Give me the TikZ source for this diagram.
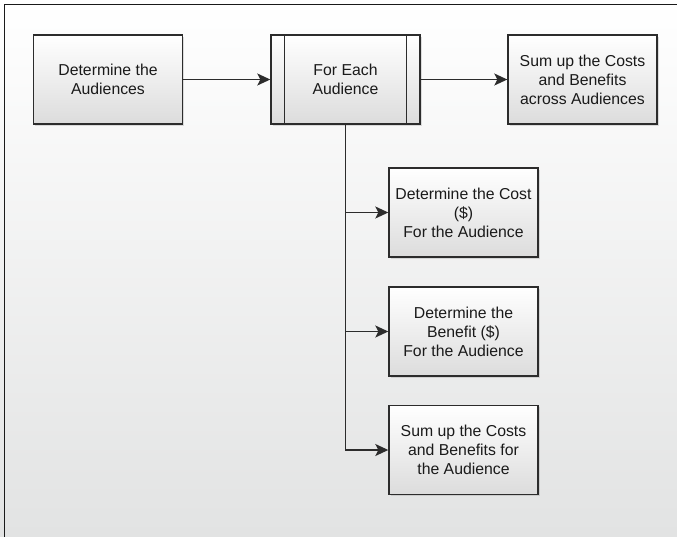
\documentclass[tikz,border=0pt]{standalone}
\usepackage{fontspec}
\setmainfont{Liberation Sans}
\usetikzlibrary{arrows.meta,shadows}
\definecolor{edge}{HTML}{2C2C2C}
\definecolor{ink}{HTML}{1A1A1A}
\definecolor{bglow}{HTML}{E2E3E3}
\definecolor{boxlow}{HTML}{DCDCDC}
\tikzset{
  stepbox/.style={draw=edge, line width=1.4pt, top color=white, bottom color=boxlow,
    minimum width=149pt, minimum height=89pt, align=center, text=ink,
    font=\fontsize{15.8pt}{19pt}\selectfont,
    drop shadow={shadow xshift=1.5pt, shadow yshift=-1.5pt, opacity=0.25}},
  flow/.style={draw=edge, line width=1.4pt, -{Stealth[length=13pt,width=12pt,inset=3pt]}},
}
\begin{document}
\begin{tikzpicture}[x=1pt,y=-1pt]
  \useasboundingbox (0,0) rectangle (677,536);
  % page background
  \shade[top color=white, bottom color=bglow] (0,0) rectangle (677,536);
  \draw[line width=1.6pt, color=ink] (4.5,540) -- (4.5,4.5) -- (680,4.5);

  % top row
  \node[stepbox] (aud) at (108,79.5) {Determine the\\Audiences};
  \node[stepbox] (each) at (345.5,79.5) {For Each\\Audience};
  \draw[edge, line width=1.4pt] ([xshift=14pt]each.north west) -- ([xshift=14pt]each.south west)
                                ([xshift=-14pt]each.north east) -- ([xshift=-14pt]each.south east);
  \node[stepbox] (total) at (582.5,79.5) {Sum up the Costs\\and Benefits\\across Audiences};

  % per-audience steps
  \node[stepbox] (cost) at (463.5,212.5) {Determine the Cost\\(\$)\\For the Audience};
  \node[stepbox] (benefit) at (463.5,331.5) {Determine the\\Benefit (\$)\\For the Audience};
  \node[stepbox] (sum) at (463.5,450) {Sum up the Costs\\and Benefits for\\the Audience};

  \coordinate (trunk) at (each.south);

  \draw[flow] (aud) -- (each);
  \draw[flow] (each) -- (total);
  \draw[flow] (trunk) |- (cost.west);
  \draw[flow] (trunk) |- (benefit.west);
  \draw[flow] (trunk) |- (sum.west);
\end{tikzpicture}
\end{document}
